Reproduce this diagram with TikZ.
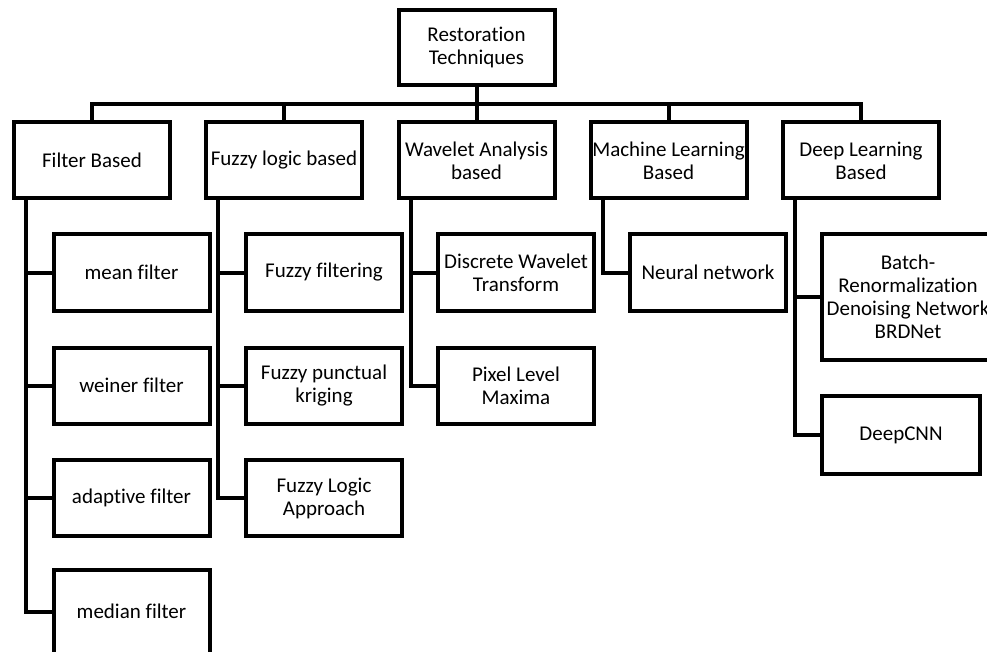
\documentclass[tikz,border=0pt]{standalone}
\usepackage{fontspec}
\setmainfont{Carlito}[Ligatures={NoCommon}]
\begin{document}
\begin{tikzpicture}[x=1pt, y=-1pt, line width=4pt,
    box/.style={draw, line width=4pt, minimum width=156pt, minimum height=76pt,
      inner sep=0pt, align=center, font=\fontsize{21}{23}\selectfont}]
      \clip (0,0) rectangle (987,652);

      % Draw the root
      \node[box, minimum height=75pt] (root) at (476.5,47.5) {Restoration\\Techniques};

      % Draw the technique groups
      \node[box] (filter) at (92,160.5) {Filter Based};
      \node[box] (fuzzy) at (284,160.5) {Fuzzy logic based};
      \node[box] (wavelet) at (476.5,160.5) {Wavelet Analysis\\based};
      \node[box] (machine) at (668.5,160.5) {Machine Learning\\Based};
      \node[box] (deep) at (861,160.5) {Deep Learning\\Based};

      % Draw the methods below each group
      \node[box] (mean) at (131.5,272.5) {mean filter};
      \node[box] (weiner) at (131.5,385.5) {weiner filter};
      \node[box] (adaptive) at (131.5,498) {adaptive filter};
      \node[box, minimum height=84pt] (median) at (131.5,611.5) {median filter};

      \node[box] (ffilt) at (324,272.5) {Fuzzy filtering};
      \node[box] (fkrig) at (324,385.5) {Fuzzy punctual\\kriging};
      \node[box] (flogic) at (324,498) {Fuzzy Logic\\Approach};

      \node[box] (dwt) at (516,272.5) {Discrete Wavelet\\Transform};
      \node[box] (pixel) at (516,385.5) {Pixel Level\\Maxima};

      \node[box] (neural) at (708,272.5) {Neural network};

      \node[box, minimum width=172pt, minimum height=126pt] (brdnet) at (908,297)
        {Batch-\\Renormalization\\Denoising Network\\BRDNet};
      \node[box, minimum width=158pt, minimum height=78pt] (deepcnn) at (901,435) {DeepCNN};

      % Connect the root to the groups
      \coordinate (bus) at (0,104);
      \draw (root.south) -- (root.south |- bus);
      \draw (filter.north) |- (deep.north |- bus) -- (deep.north);
      \foreach \g in {fuzzy,wavelet,machine}
        \draw (\g.north) -- (\g.north |- bus);

      % Connect each group to its methods
      \coordinate (fstem) at ([xshift=14pt]filter.south west);
      \draw (fstem) |- (median.west);
      \foreach \c in {mean,weiner,adaptive}
        \draw (\c.west) -- (\c.west -| fstem);

      \coordinate (zstem) at ([xshift=14pt]fuzzy.south west);
      \draw (zstem) |- (flogic.west);
      \foreach \c in {ffilt,fkrig}
        \draw (\c.west) -- (\c.west -| zstem);

      \coordinate (wstem) at ([xshift=14pt]wavelet.south west);
      \draw (wstem) |- (pixel.west);
      \draw (dwt.west) -- (dwt.west -| wstem);

      \coordinate (mstem) at ([xshift=14pt]machine.south west);
      \draw (mstem) |- (neural.west);

      \coordinate (dstem) at ([xshift=14pt]deep.south west);
      \draw (dstem) |- (deepcnn.west);
      \draw (brdnet.west) -- (brdnet.west -| dstem);
    \end{tikzpicture}
\end{document}
